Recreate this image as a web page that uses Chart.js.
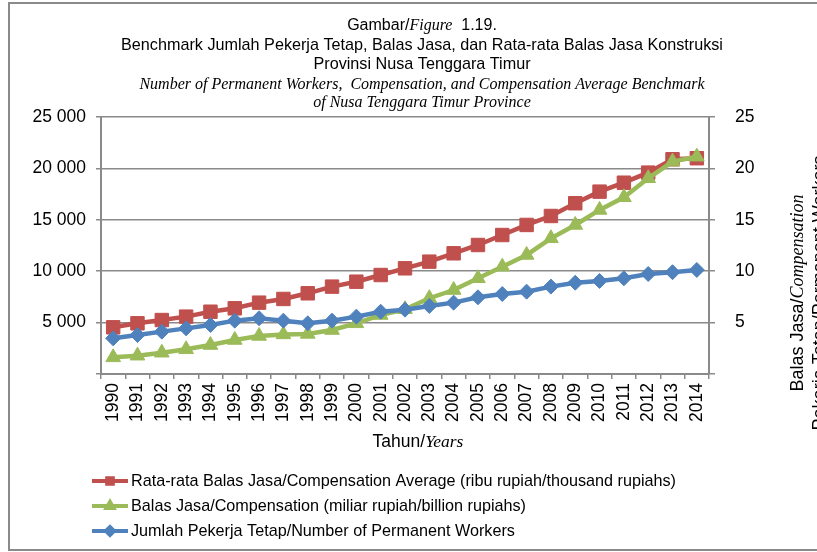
<!DOCTYPE html>
<html>
<head>
<meta charset="utf-8">
<script src="https://cdn.jsdelivr.net/npm/chart.js@4.4.1/dist/chart.umd.min.js"></script>
<style>
  body { margin: 0; background: #fff; }
  canvas { display: block; }
</style>
</head>
<body>
<canvas id="chart1" width="817" height="552"></canvas>
<script>
// data
const years = ['1990', '1991', '1992', '1993', '1994', '1995', '1996', '1997', '1998', '1999', '2000', '2001', '2002',
    '2003', '2004', '2005', '2006', '2007', '2008', '2009', '2010', '2011', '2012', '2013', '2014'];
const rataRata = [4540, 4930, 5250, 5580, 6060, 6390, 6940, 7300, 7850, 8500, 8980, 9630, 10280,
    10930, 11740, 12550, 13520, 14500, 15370, 16610, 17740, 18610, 19590, 20890, 20990];
const balasJasa = [1.62, 1.78, 2.07, 2.40, 2.82, 3.31, 3.70, 3.85, 3.90, 4.28, 4.93, 5.74, 6.30,
    7.37, 8.17, 9.31, 10.44, 11.58, 13.20, 14.50, 15.96, 17.19, 19.04, 20.66, 21.14];
const pekerja = [3470, 3790, 4120, 4440, 4770, 5190, 5420, 5190, 4930, 5190, 5580, 6060, 6260,
    6620, 6940, 7460, 7780, 8010, 8500, 8880, 9050, 9310, 9730, 9900, 10120];
const leftTicks = [0, 5000, 10000, 15000, 20000, 25000];
const rightTicks = [0, 5, 10, 15, 20, 25];

const seriesLabels = [
    'Rata-rata Balas Jasa/Compensation Average (ribu rupiah/thousand rupiahs)',
    'Balas Jasa/Compensation (miliar rupiah/billion rupiahs)',
    'Jumlah Pekerja Tetap/Number of Permanent Workers'
];

const sans = '"Liberation Sans", Arial, sans-serif';
const serif = '"Liberation Serif", "Times New Roman", serif';
const gray = '#8a8a8a';

// draw a line of text made of differently styled pieces, centred on x
function drawParts(ctx, parts, x, y) {
    let total = 0;
    parts.forEach(p => { ctx.font = p[1]; total += ctx.measureText(p[0]).width; });
    let cx = x - total / 2;
    ctx.textAlign = 'left';
    ctx.textBaseline = 'alphabetic';
    parts.forEach(p => {
        ctx.font = p[1];
        ctx.fillText(p[0], cx, y);
        cx += ctx.measureText(p[0]).width;
    });
}

function fmt(v) {
    return String(v).replace(/\B(?=(\d{3})+(?!\d))/g, ' ');
}

const textPlugin = {
    id: 'texts',
    afterDraw(chart) {
        const ctx = chart.ctx;
        ctx.save();
        ctx.fillStyle = '#000';

        // title
        const tx = 422;
        drawParts(ctx, [['Gambar/', '16px ' + sans], ['Figure', 'italic 16px ' + serif], ['  1.19.', '16px ' + sans]], tx, 30);
        drawParts(ctx, [['Benchmark Jumlah Pekerja Tetap, Balas Jasa, dan Rata-rata Balas Jasa Konstruksi', '16.2px ' + sans]], tx, 50);
        drawParts(ctx, [['Provinsi Nusa Tenggara Timur', '16.2px ' + sans]], tx, 69);
        drawParts(ctx, [['Number of Permanent Workers,  Compensation, and Compensation Average Benchmark', 'italic 16px ' + serif]], tx, 89);
        drawParts(ctx, [['of Nusa Tenggara Timur Province', 'italic 16px ' + serif]], tx, 107);

        // x axis title
        drawParts(ctx, [['Tahun/', '17.5px ' + sans], ['Years', 'italic 17.5px ' + serif]], 418, 447);

        // right axis title (rotated)
        ctx.translate(803, 293);
        ctx.rotate(-Math.PI / 2);
        drawParts(ctx, [['Balas Jasa/', '18px ' + sans], ['Compensation', 'italic 18px ' + serif]], 0, 0);
        drawParts(ctx, [['Pekerja Tetap/Permanent Workers', '18px ' + sans]], 0, 22);
        ctx.setTransform(1, 0, 0, 1, 0, 0);

        // legend
        chart.data.datasets.forEach((ds, i) => {
            const y = 481 + i * 25;
            ctx.strokeStyle = ds.borderColor;
            ctx.fillStyle = ds.borderColor;
            ctx.lineWidth = 4;
            ctx.beginPath();
            ctx.moveTo(92, y);
            ctx.lineTo(128, y);
            ctx.stroke();
            Chart.helpers.drawPoint(ctx, { pointStyle: ds.pointStyle, radius: 4, rotation: 0, borderWidth: 1 }, 110, y);
            ctx.fillStyle = '#000';
            ctx.font = '16.2px ' + sans;
            ctx.textAlign = 'left';
            ctx.textBaseline = 'middle';
            ctx.fillText(ds.label, 131, y + 1);
        });

        // outer frame
        ctx.strokeStyle = gray;
        ctx.lineWidth = 2;
        ctx.strokeRect(9, 3, 900, 547);
        ctx.restore();
    }
};

const ctx1 = document.getElementById('chart1').getContext('2d');
const chart1 = new Chart(ctx1, {
    type: 'line',
    data: {
        labels: years,
        datasets: [{
            label: seriesLabels[0],
            data: rataRata,
            yAxisID: 'y',
            borderColor: '#C0504D',
            backgroundColor: '#C0504D',
            pointStyle: 'rect',
            pointRadius: 9.5,
            pointBorderWidth: 1,
            borderWidth: 4.5,
            order: 3
        }, {
            label: seriesLabels[1],
            data: balasJasa,
            yAxisID: 'y1',
            borderColor: '#9BBB59',
            backgroundColor: '#9BBB59',
            pointStyle: 'triangle',
            pointRadius: 8.5,
            pointBorderWidth: 1,
            borderWidth: 4.5,
            order: 2
        }, {
            label: seriesLabels[2],
            data: pekerja,
            yAxisID: 'y',
            borderColor: '#4F81BD',
            backgroundColor: '#4F81BD',
            pointStyle: 'rectRot',
            pointRadius: 7.5,
            pointBorderWidth: 1,
            borderWidth: 4.5,
            order: 1
        }]
    },
    options: {
        responsive: false,
        animation: false,
        layout: { padding: { top: 117, left: 0, right: 0, bottom: 0 } },
        plugins: {
            legend: { display: false },
            title: { display: false },
            tooltip: { enabled: false }
        },
        scales: {
            x: {
                offset: true,
                grid: { offset: true, drawOnChartArea: false, tickLength: 5, color: gray, lineWidth: 1.5 },
                border: { color: gray, width: 2 },
                ticks: { minRotation: 90, maxRotation: 90, autoSkip: false, padding: 4, color: '#000', font: { family: sans, size: 17.5 } },
                afterFit: s => { s.height = 178; }
            },
            y: {
                position: 'left',
                min: 0,
                max: 25000,
                afterBuildTicks: s => { s.ticks = leftTicks.map(v => ({ value: v })); },
                grid: { color: gray, lineWidth: 1.5, tickLength: 5 },
                border: { color: gray, width: 2 },
                ticks: { padding: 10, color: '#000', font: { family: sans, size: 17.5 }, callback: v => v === 0 ? '' : fmt(v) },
                afterFit: s => { s.width = 101; }
            },
            y1: {
                position: 'right',
                min: 0,
                max: 25,
                afterBuildTicks: s => { s.ticks = rightTicks.map(v => ({ value: v })); },
                grid: { drawOnChartArea: false, color: gray, lineWidth: 1.5, tickLength: 6 },
                border: { color: gray, width: 2 },
                ticks: { padding: 20, color: '#000', font: { family: sans, size: 17.5 }, callback: v => v === 0 ? '' : v },
                afterFit: s => { s.width = 108; }
            }
        }
    },
    plugins: [textPlugin]
});
</script>
</body>
</html>
